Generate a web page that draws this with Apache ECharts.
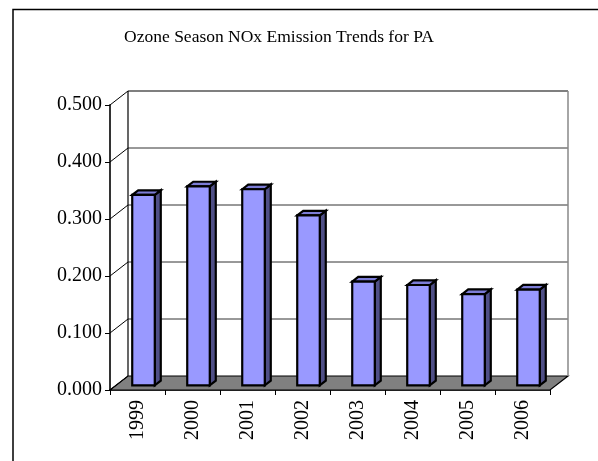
<!DOCTYPE html>
<html>
<head>
<meta charset="utf-8">
<script src="https://cdn.jsdelivr.net/npm/echarts@6/dist/echarts.min.js"></script>
<style>
html,body{margin:0;padding:0;background:#fff;}
#chart{width:598px;height:461px;}
</style>
</head>
<body>
<div id="chart"></div>
<script>
var titleText = 'Ozone Season NOx Emission Trends for PA';
var years = ['1999','2000','2001','2002','2003','2004','2005','2006'];
var noxValues = [0.334, 0.349, 0.344, 0.298, 0.182, 0.176, 0.160, 0.168];
var yTicks = [0, 0.1, 0.2, 0.3, 0.4, 0.5];

var DX = 18, DY = -14;          // depth offset of the 3D box
var F1 = 1/3, F2 = 2/3;         // bar depth position within the box
var FONT = 'Liberation Serif';

var chart = echarts.init(document.getElementById('chart'));

function wallsRender(params, api) {
  var cs = params.coordSys;
  var x0 = cs.x, y0 = cs.y, w = cs.width, h = cs.height;
  var children = [];
  children.push({type:'rect', shape:{x:x0+DX, y:y0+DY, width:w, height:h},
    style:{fill:'#fff', stroke:null}});
  children.push({type:'polygon', shape:{points:[[x0,y0+h],[x0+w,y0+h],[x0+w+DX,y0+h+DY],[x0+DX,y0+h+DY]]},
    style:{fill:'#808080', stroke:'#000', lineWidth:1.2}});
  yTicks.forEach(function (t) {
    var y = api.coord([0, t])[1];
    if (t > 0 && t < 0.5) {
      children.push({type:'line', shape:{x1:x0+DX, y1:y+DY, x2:x0+w+DX, y2:y+DY},
        style:{stroke:'#333', lineWidth:1}});
    }
    children.push({type:'line', shape:{x1:x0, y1:y, x2:x0+DX, y2:y+DY},
      style:{stroke:'#000', lineWidth:1}});
  });
  children.push({type:'line', shape:{x1:x0+DX, y1:y0+DY, x2:x0+w+DX, y2:y0+DY}, style:{stroke:'#000', lineWidth:1.2}});
  children.push({type:'line', shape:{x1:x0+DX, y1:y0+DY, x2:x0+DX, y2:y0+h+DY}, style:{stroke:'#000', lineWidth:1.2}});
  children.push({type:'line', shape:{x1:x0+w+DX, y1:y0+DY, x2:x0+w+DX, y2:y0+h+DY}, style:{stroke:'#888', lineWidth:1.5}});
  return {type:'group', children:children, silent:true};
}

function barRender(params, api) {
  var idx = api.value(0), v = api.value(1);
  var p = api.coord([idx, v]);
  var p0 = api.coord([idx, 0]);
  var bw = api.size([1, 0])[0] * 0.41;
  var ox = DX * F1, oy = DY * F1;
  var dx = DX * (F2 - F1), dy = DY * (F2 - F1);
  var xl = p[0] - bw/2 + ox, xr = p[0] + bw/2 + ox;
  var yt = p[1] + oy, yb = p0[1] + oy;
  var st = {stroke:'#000', lineWidth:2.2, lineJoin:'miter'};
  return {type:'group', children:[
    {type:'polygon', shape:{points:[[xr,yt],[xr+dx,yt+dy],[xr+dx,yb+dy],[xr,yb]]},
      style:Object.assign({fill:'#4F4F86'}, st)},
    {type:'polygon', shape:{points:[[xl,yt],[xl+dx,yt+dy],[xr+dx,yt+dy],[xr,yt]]},
      style:Object.assign({fill:'#7C7CD6'}, st)},
    {type:'rect', shape:{x:xl, y:yt, width:xr-xl, height:yb-yt},
      style:Object.assign({fill:'#9999FF'}, st)}
  ]};
}

chart.setOption({
  animation:false,
  backgroundColor:'#fff',
  graphic:[
    {type:'rect', shape:{x:13, y:9.5, width:700, height:600},
      style:{fill:null, stroke:'#000', lineWidth:1.5}, z:100, silent:true},
    {type:'text', x:279, y:37, z:100, silent:true,
      style:{text:titleText, font:'17.5px "Liberation Serif"', fill:'#000',
        textAlign:'center', textVerticalAlign:'middle'}}
  ],
  grid:{left:110, top:105, width:440, height:285},
  xAxis:{
    type:'category', data:years, boundaryGap:true,
    axisLine:{lineStyle:{color:'#000', width:1.5}},
    axisTick:{show:true, length:5, lineStyle:{color:'#000', width:1}},
    axisLabel:{rotate:90, margin:10, fontFamily:FONT, fontSize:20, color:'#000'},
    splitLine:{show:false}
  },
  yAxis:{
    type:'value', min:0, max:0.5, interval:0.1,
    axisLine:{show:true, lineStyle:{color:'#333', width:2}},
    axisTick:{show:true, length:5, lineStyle:{color:'#000', width:1}},
    axisLabel:{margin:8, fontFamily:FONT, fontSize:20, color:'#000',
      formatter:function (v) { return v.toFixed(3); }},
    splitLine:{show:false}
  },
  series:[
    {type:'custom', renderItem:wallsRender, data:[[0,0]], z:1, silent:true},
    {type:'custom', renderItem:barRender, data:noxValues.map(function (v, i) { return [i, v]; }), z:2}
  ]
});
</script>
</body>
</html>
